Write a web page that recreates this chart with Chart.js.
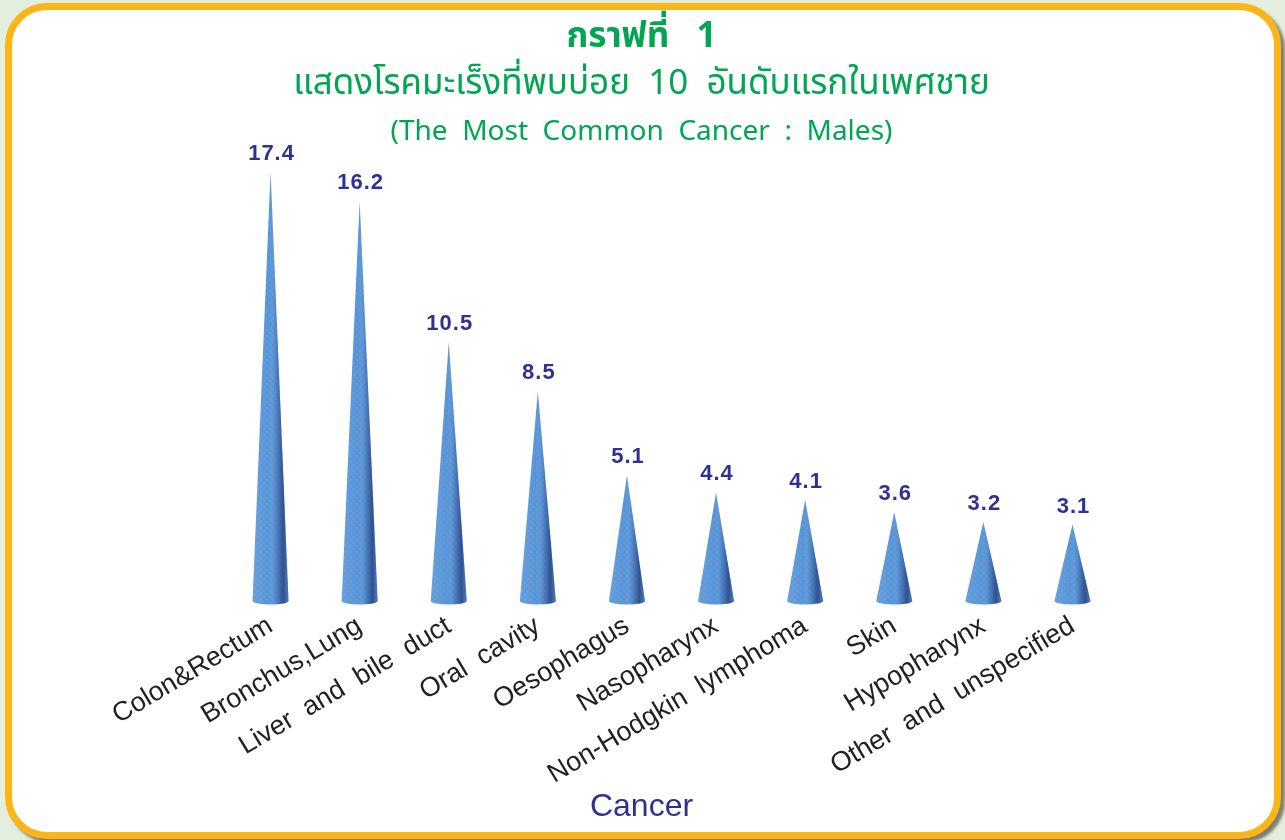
<!DOCTYPE html>
<html>
<head>
<meta charset="utf-8">
<script src="https://cdn.jsdelivr.net/npm/chart.js@4.4.1/dist/chart.umd.min.js"></script>
<style>
  html, body { margin: 0; padding: 0; width: 1285px; height: 840px; overflow: hidden; background: #e4eedf; }
  #frame {
    position: absolute; left: 5px; top: 3px; width: 1262px; height: 822px;
    border: 7px solid #fbb516; border-radius: 42px; background: #ffffff;
    box-shadow: 4px 4px 3px rgba(90,90,80,0.75);
  }
  #wrap { position: absolute; left: 0; top: 0; width: 1285px; height: 840px; }
</style>
</head>
<body>
<div id="frame"></div>
<div id="wrap"><canvas id="c"></canvas></div>
<script>
const categories = [
  "Colon&Rectum", "Bronchus,Lung", "Liver  and  bile  duct", "Oral  cavity",
  "Oesophagus", "Nasopharynx", "Non-Hodgkin  lymphoma", "Skin",
  "Hypopharynx", "Other  and  unspecified"
];
const values = [17.4, 16.2, 10.5, 8.5, 5.1, 4.4, 4.1, 3.6, 3.2, 3.1];
const titleText = "กราฟที่   1";
const subtitleText = "แสดงโรคมะเร็งที่พบบ่อย  10  อันดับแรกในเพศชาย";
const thirdLine = "(The  Most  Common  Cancer  :  Males)";
const axisTitle = "Cancer";

function makePattern(ctx) {
  const t = document.createElement('canvas');
  t.width = 6; t.height = 6;
  const c = t.getContext('2d');
  c.fillStyle = '#8588d0';
  c.fillRect(0, 0, 6, 6);
  c.strokeStyle = '#3f9edc';
  c.lineWidth = 1.6;
  c.beginPath();
  c.moveTo(0, 0); c.lineTo(6, 6);
  c.moveTo(6, 0); c.lineTo(0, 6);
  c.moveTo(-3, 3); c.lineTo(3, 9);
  c.moveTo(3, -3); c.lineTo(9, 3);
  c.moveTo(3, -3); c.lineTo(-3, 3);
  c.moveTo(9, 3); c.lineTo(3, 9);
  c.stroke();
  return ctx.createPattern(t, 'repeat');
}

const conePlugin = {
  id: 'cones',
  afterDatasetsDraw(chart) {
    const ctx = chart.ctx;
    const pat = makePattern(ctx);
    const meta = chart.getDatasetMeta(0);
    meta.data.forEach((bar, i) => {
      const x = bar.x, top = bar.y, base = bar.base;
      const hw = bar.width / 2;
      ctx.save();
      ctx.beginPath();
      ctx.moveTo(x - hw, base);
      ctx.lineTo(x, top);
      ctx.lineTo(x + hw, base);
      ctx.ellipse(x, base, hw, 3.5, 0, 0, Math.PI, false);
      ctx.closePath();
      ctx.fillStyle = pat;
      ctx.fill();
      const g = ctx.createLinearGradient(x - hw, 0, x + hw, 0);
      g.addColorStop(0, 'rgba(255,255,255,0.10)');
      g.addColorStop(0.45, 'rgba(255,255,255,0)');
      g.addColorStop(0.68, 'rgba(30,40,110,0.22)');
      g.addColorStop(0.85, 'rgba(15,25,80,0.55)');
      g.addColorStop(1, 'rgba(40,60,120,0.3)');
      ctx.fillStyle = g;
      ctx.fill();
      // value label
      ctx.fillStyle = '#2e3192';
      ctx.font = 'bold 22px "Liberation Sans", Arial, sans-serif';
      ctx.letterSpacing = '1px';
      ctx.textAlign = 'center';
      ctx.textBaseline = 'alphabetic';
      ctx.fillText(String(values[i]), x + 1, top - 12);
      ctx.restore();
    });
    const tb = chart.titleBlock;
    const cx = (tb.left + tb.right) / 2;
    ctx.save();
    ctx.textAlign = 'center';
    ctx.textBaseline = 'middle';
    // third title line
    ctx.fillStyle = '#00a651';
    ctx.font = '28px "Noto Sans", "DejaVu Sans", sans-serif';
    ctx.fillText(thirdLine, cx, 132);
    // x axis title
    ctx.fillStyle = '#2e3192';
    ctx.font = '32px "Liberation Sans", Arial, sans-serif';
    ctx.fillText(axisTitle, cx, 807);
    ctx.restore();
  }
};

new Chart(document.getElementById('c'), {
  type: 'bar',
  data: {
    labels: categories,
    datasets: [{
      data: values,
      backgroundColor: 'rgba(0,0,0,0)',
      borderWidth: 0,
      barThickness: 36
    }]
  },
  options: {
    responsive: true,
    maintainAspectRatio: false,
    animation: false,
    layout: { padding: { left: 166, right: 168, top: 0, bottom: 0 } },
    plugins: {
      legend: { display: false },
      tooltip: { enabled: false },
      title: {
        display: true,
        text: titleText,
        color: '#00a651',
        font: { size: 35, family: '"Noto Sans Thai", "Noto Sans", "DejaVu Sans", sans-serif', weight: 'bold', lineHeight: 1.3 },
        padding: { top: 17, bottom: 0 }
      },
      subtitle: {
        display: true,
        text: subtitleText,
        color: '#00a651',
        font: { size: 35, family: '"Noto Sans Thai", "Noto Sans", "DejaVu Sans", sans-serif', weight: 'normal', lineHeight: 1.3 },
        padding: { top: 2, bottom: 47 }
      }
    },
    scales: {
      x: {
        grid: { display: false, drawTicks: false },
        border: { display: false },
        ticks: {
          autoSkip: false,
          minRotation: 31,
          maxRotation: 31,
          padding: 9,
          color: '#231f20',
          font: { size: 27, family: '"Liberation Sans", Arial, sans-serif' }
        },
        afterFit(s) { s.height = 239; }
      },
      y: {
        display: true,
        min: 0,
        max: 18,
        grid: { display: false, drawTicks: false },
        border: { display: false },
        ticks: { display: false },
        afterFit(s) { s.width = 60; }
      }
    }
  },
  plugins: [conePlugin]
});
</script>
</body>
</html>
